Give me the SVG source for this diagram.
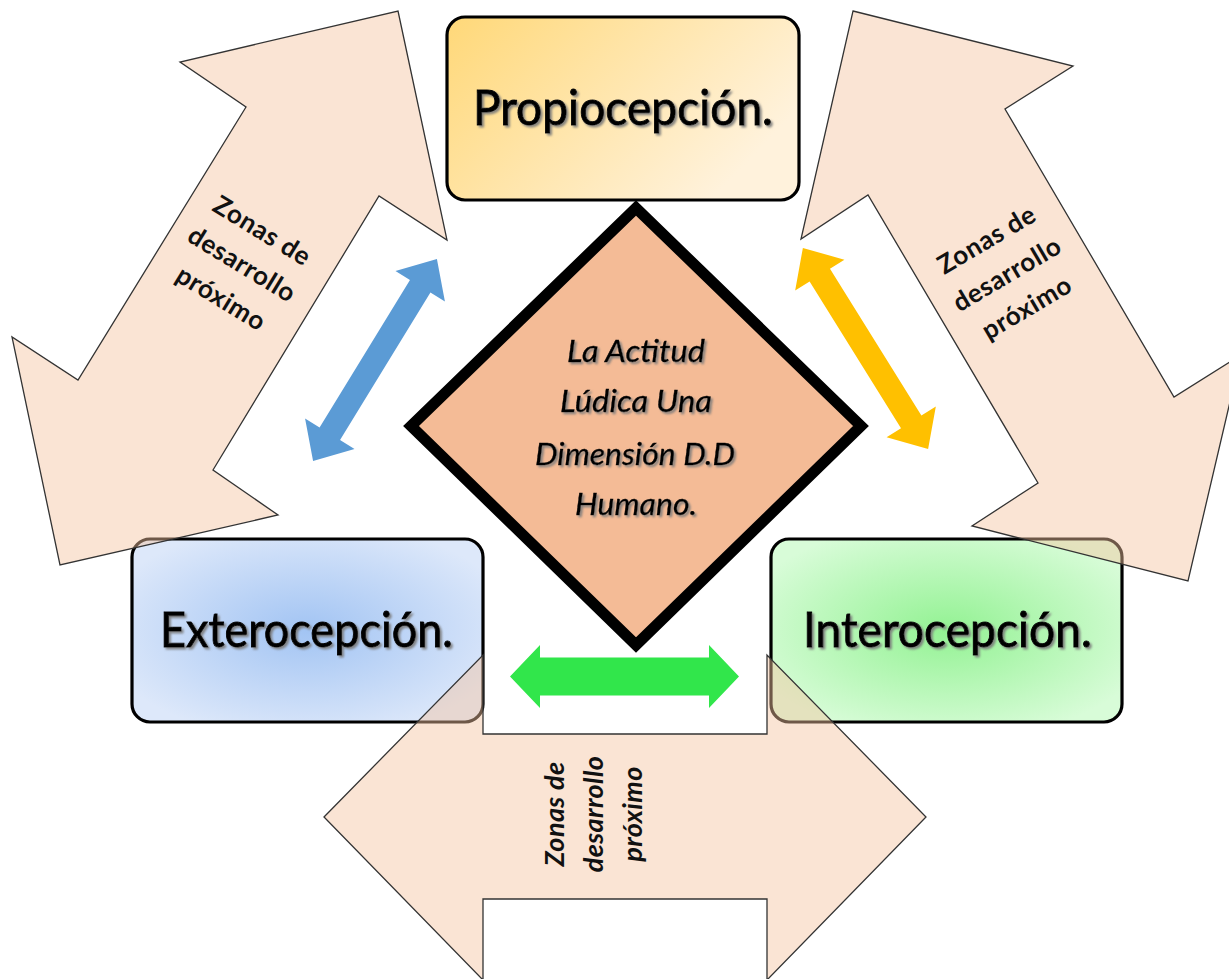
<svg xmlns="http://www.w3.org/2000/svg" width="1229" height="979" viewBox="0 0 1229 979">
  <defs>
    <linearGradient id="gradGold" x1="0" y1="0" x2="1" y2="0.5">
      <stop offset="0" stop-color="#FFD878"/>
      <stop offset="1" stop-color="#FFF2DC"/>
    </linearGradient>
    <radialGradient id="gradBlue" cx="0.5" cy="0.5" r="0.6">
      <stop offset="0" stop-color="#A2C4F3"/>
      <stop offset="1" stop-color="#DDE8FA"/>
    </radialGradient>
    <radialGradient id="gradGreen" cx="0.5" cy="0.5" r="0.6">
      <stop offset="0" stop-color="#93F293"/>
      <stop offset="1" stop-color="#D8FCD8"/>
    </radialGradient>
    <filter id="textShadow" x="-10%" y="-30%" width="120%" height="160%">
      <feDropShadow dx="2" dy="2" stdDeviation="1" flood-color="#7a7a7a" flood-opacity="0.9"/>
    </filter>
    <!-- double-headed arrow shape, centred on the origin, pointing along x -->
    <polygon id="smallArrow" points="-118.5,0 -86.5,-29 -86.5,-12 86.5,-12 86.5,-29 118.5,0 86.5,29 86.5,12 -86.5,12 -86.5,29"/>
  </defs>
  <style>
    .box { stroke: #000; stroke-width: 3.2; }
    .label { font-family: Lato, "Open Sans", sans-serif; font-size: 48px; fill: #000; stroke: #000; stroke-width: 0.9; text-anchor: middle; filter: url(#textShadow); }
    .zone { fill: #F5C3A0; fill-opacity: 0.45; stroke: #333; stroke-width: 1.3; stroke-linejoin: miter; }
    .zoneText { font-family: Lato, "Open Sans", sans-serif; font-weight: bold; font-size: 26px; letter-spacing: 0.6px; fill: #111; text-anchor: middle; }
    .zoneTextBottom { font-style: italic; font-size: 27px; letter-spacing: 0.4px; }
    .core { fill: #F4BB96; stroke: #000; stroke-width: 11; stroke-linejoin: miter; }
    .coreText { font-family: Lato, "Open Sans", sans-serif; font-style: italic; font-size: 31px; fill: #000; stroke: #000; stroke-width: 0.4; text-anchor: middle; filter: url(#textShadow); }
  </style>

  <rect width="1229" height="979" fill="#FFFFFF"/>

  <!-- sensory boxes -->
  <g id="propiocepcion">
    <rect class="box" x="447" y="17" width="352" height="183" rx="18" fill="url(#gradGold)"/>
    <text class="label" x="623" y="125" textLength="300" lengthAdjust="spacingAndGlyphs">Propiocepción.</text>
  </g>
  <g id="exterocepcion">
    <rect class="box" x="132" y="539" width="351" height="183" rx="18" fill="url(#gradBlue)"/>
    <text class="label" x="306.5" y="647" textLength="293" lengthAdjust="spacingAndGlyphs">Exterocepción.</text>
  </g>
  <g id="interocepcion">
    <rect class="box" x="771" y="539" width="351" height="183" rx="18" fill="url(#gradGreen)"/>
    <text class="label" x="947.5" y="647" textLength="289" lengthAdjust="spacingAndGlyphs">Interocepción.</text>
  </g>

  <!-- translucent "zonas de desarrollo próximo" arrows -->
  <g id="zona-izquierda">
    <polygon class="zone" points="398,11 447,240 379,196 213,470 278,515 60,565 12,337 78,380 246,107 180,62"/>
    <g transform="translate(242,264) rotate(31.4)">
      <text class="zoneText" x="0" y="-30">Zonas de</text>
      <text class="zoneText" x="0" y="9">desarrollo</text>
      <text class="zoneText" x="0" y="49">próximo</text>
    </g>
  </g>
  <g id="zona-derecha">
    <polygon class="zone" points="853,11 1073,66 1005,109 1174,397 1241,355 1188,581 972,526 1038,483 868,195 801,239"/>
    <g transform="translate(1007,274) rotate(-30.5)">
      <text class="zoneText" x="0" y="-31">Zonas de</text>
      <text class="zoneText" x="0" y="9">desarrollo</text>
      <text class="zoneText" x="0" y="48">próximo</text>
    </g>
  </g>
  <g id="zona-inferior">
    <polygon class="zone" points="324,817 483,655 483,734 767,734 767,655 926,817 767,980 767,899 483,899 483,980"/>
    <g transform="translate(596,814) rotate(-90)">
      <text class="zoneText zoneTextBottom" x="0" y="-32">Zonas de</text>
      <text class="zoneText zoneTextBottom" x="0" y="7">desarrollo</text>
      <text class="zoneText zoneTextBottom" x="0" y="46">próximo</text>
    </g>
  </g>

  <!-- central diamond -->
  <g id="actitud-ludica">
    <polygon class="core" points="636,208 861,426 636,645 411,426"/>
    <text class="coreText" x="636" y="362" textLength="138" lengthAdjust="spacingAndGlyphs">La Actitud</text>
    <text class="coreText" x="636" y="412" textLength="152" lengthAdjust="spacingAndGlyphs">Lúdica Una</text>
    <text class="coreText" x="635" y="465" textLength="200" lengthAdjust="spacingAndGlyphs">Dimensión D.D</text>
    <text class="coreText" x="636" y="515" textLength="122" lengthAdjust="spacingAndGlyphs">Humano.</text>
  </g>

  <!-- two-way connectors between the boxes -->
  <g id="connectors">
    <use href="#smallArrow" fill="#5B9BD5" transform="translate(375,360) rotate(-58.5)"/>
    <use href="#smallArrow" fill="#FFC000" transform="translate(865.5,348.5) rotate(58.1)"/>
    <polygon fill="#31E64B" points="510,676.5 540,645 540,657.5 709,657.5 709,645 739,676.5 709,708 709,695.5 540,695.5 540,708"/>
  </g>
</svg>
